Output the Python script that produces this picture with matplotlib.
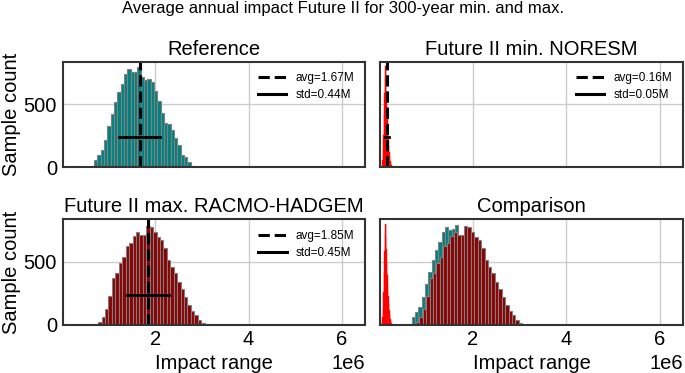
import matplotlib
matplotlib.use("Agg")
import matplotlib.pyplot as plt
from matplotlib.lines import Line2D
import numpy as np

plt.rcParams["font.family"] = ["Liberation Sans", "DejaVu Sans"]

# counts per bin
ref_counts = [10, 60, 100, 140, 220, 325, 420, 515, 595, 660, 740, 780, 755, 760,
              795, 715, 690, 705, 675, 605, 525, 430, 350, 340, 300, 230, 180, 100,
              85, 45, 10]
ref_range = (0.62e6, 2.83e6)

max_counts = [20, 66, 125, 230, 370, 410, 495, 540, 627, 654, 706, 741, 714, 714,
              786, 775, 741, 701, 675, 609, 516, 463, 415, 344, 283, 220, 159, 114,
              79, 40, 13]
max_range = (0.78e6, 3.06e6)

min_counts = [5, 20, 60, 140, 260, 420, 590, 720, 805, 790, 700, 600, 500, 400,
              310, 230, 170, 120, 80, 50, 30, 15, 8, 3]
min_range = (0.04e6, 0.28e6)

avgs = {"ref": 1.67e6, "min": 0.16e6, "max": 1.85e6}
stds = {"ref": 0.44e6, "min": 0.05e6, "max": 0.45e6}
std_height = 240

titles = ["Reference", "Future II min. NORESM", "Future II max. RACMO-HADGEM", "Comparison"]
suptitle = "Average annual impact Future II for 300-year min. and max."

FS = 14.5


def draw_hist(ax, counts, rng, color, edge="grey", lw=0.8):
    edges = np.linspace(rng[0], rng[1], len(counts) + 1)
    centers = 0.5 * (edges[:-1] + edges[1:])
    ax.hist(centers, bins=edges, weights=counts, color=color,
            edgecolor=edge, linewidth=lw)


def draw_stats(ax, key):
    avg, std = avgs[key], stds[key]
    ax.axvline(avg, color="black", linestyle="--", linewidth=2.2)
    ax.plot([avg - std, avg + std], [std_height, std_height], color="black", linewidth=2)
    handles = [Line2D([], [], color="black", linestyle="--", linewidth=2.2),
               Line2D([], [], color="black", linewidth=2.2)]
    ax.legend(handles, [f"avg={avg / 1e6:.2f}M", f"std={std / 1e6:.2f}M"],
              loc="upper right", fontsize=8.5, frameon=False, handlelength=2.4,
              labelspacing=0.45)


fig, axes = plt.subplots(2, 2, figsize=(6.85, 3.73), dpi=100, sharex=True, sharey=True)
fig.subplots_adjust(left=0.0915, right=0.997, top=0.835, bottom=0.129,
                    wspace=0.05, hspace=0.49)

ax_ref, ax_min, ax_max, ax_cmp = axes.ravel()

draw_hist(ax_ref, ref_counts, ref_range, "teal")
draw_stats(ax_ref, "ref")

draw_hist(ax_min, min_counts, min_range, "red", edge="red", lw=0.3)
draw_stats(ax_min, "min")

draw_hist(ax_max, max_counts, max_range, "darkred")
draw_stats(ax_max, "max")

draw_hist(ax_cmp, ref_counts, ref_range, "teal")
draw_hist(ax_cmp, max_counts, max_range, "darkred")
draw_hist(ax_cmp, min_counts, min_range, "red", edge="red", lw=0.3)

for ax, title in zip(axes.ravel(), titles):
    ax.set_title(title, fontsize=FS, pad=5)
    ax.grid(True, color="#cccccc", linewidth=1)
    ax.set_axisbelow(True)
    ax.tick_params(length=0, labelsize=FS, pad=4)
    for sp in ax.spines.values():
        sp.set_color("#333333")
        sp.set_linewidth(1.5)
    ax.xaxis.get_offset_text().set_fontsize(FS)

ax_ref.set_xlim(0.02e6, 6.5e6)
ax_ref.set_ylim(0, 840)
ax_ref.set_xticks([2e6, 4e6, 6e6])
ax_ref.set_yticks([0, 500])

for ax in (ax_ref, ax_max):
    ax.set_ylabel("Sample count", fontsize=FS, labelpad=2)
for ax in (ax_max, ax_cmp):
    ax.set_xlabel("Impact range", fontsize=FS, labelpad=3)

fig.suptitle(suptitle, fontsize=12, y=0.998, va="top")
fig.savefig("out.png", dpi=100)
